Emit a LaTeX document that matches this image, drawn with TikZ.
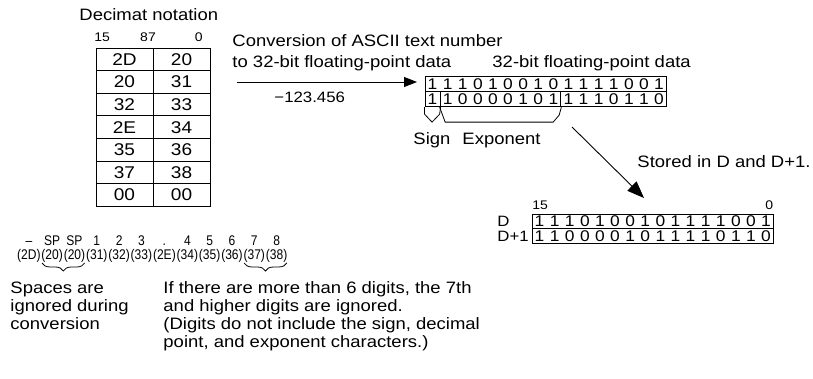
\documentclass[tikz,border=0pt]{standalone}
\usepackage{fontspec}
\setmainfont{Liberation Sans}[FakeStretch=1.12]
\newfontfamily\condfont{Liberation Sans}[FakeStretch=0.86]
\usetikzlibrary{decorations.pathreplacing,arrows.meta,calc}
\begin{document}
\begin{tikzpicture}[x=1pt,y=-1pt,
  line width=0.9pt,
  txt/.style={font=\fontsize{16.5}{18.4}\selectfont, inner sep=0pt, align=left},
  small/.style={font=\fontsize{12.5}{14}\selectfont, inner sep=0pt},
  cond/.style={font=\condfont\fontsize{14}{15}\selectfont, inner sep=0pt},
  cell/.style={draw, minimum width=57pt, minimum height=22.6pt, inner sep=0pt,
    font=\fontsize{17}{18}\selectfont, text height=12.2pt, text depth=0pt},
  regbox/.style={draw, minimum height=15pt, inner sep=0pt},
  bit/.style={font=\fontsize{15.5}{16}\selectfont, inner sep=0pt, text height=11pt, text depth=0pt},
  bigarrow/.style={-{Triangle[length=13pt,width=10pt]}},
  bracefoot/.style={decorate, decoration={brace, mirror, amplitude=8pt}}
]
\useasboundingbox (0,0) rectangle (813,379);

% ---------- decimal table ----------
\node[txt, anchor=base west] (title) at (79,21) {Decimat notation};
\node[small, anchor=base west] (b15) at (94,42) {15};
\node[small, anchor=base] (b87) at (148,42) {87};
\node[small, anchor=base east] (b0) at (203,42) {0};
\foreach \i/\a/\b in {1/2D/20, 2/20/31, 3/32/33, 4/2E/34, 5/35/36, 6/37/38, 7/00/00} {
  \node[cell] (L\i) at (124.5, {48+22.6*(\i-0.5)}) {\a};
  \node[cell] (R\i) at (181.5, {48+22.6*(\i-0.5)}) {\b};
}

% ---------- conversion arrow ----------
\node[txt, anchor=base west] (conv) at (232,47) {Conversion of ASCII text number};
\node[txt, anchor=base west] (conv2) at (232,68) {to 32-bit floating-point data};
\coordinate (arrS) at (237,82);
\coordinate (arrE) at (417,82);
\draw[bigarrow] (arrS) -- (arrE);
\node[font=\fontsize{15}{16}\selectfont, inner sep=0pt, anchor=base west] (val) at (274,103) {−123.456};

% ---------- 32-bit register ----------
\node[txt, anchor=base west] (fplabel) at (492,68) {32-bit floating-point data};
\node[regbox, minimum width=241.6pt] (rowA) at (545.8,84.2) {};
\node[regbox, minimum width=15.1pt] (sgn) at (432.55,99.2) {};
\node[regbox, minimum width=120.8pt] (expo) at (500.5,99.2) {};
\node[regbox, minimum width=105.7pt] (mant) at (613.75,99.2) {};
\foreach \d [count=\j from 0] in {1,1,1,0,1,0,0,1,0,1,1,1,1,0,0,1} {
  \node[bit] (ta\j) at ({425+15.1*(\j+0.5)}, 84.2) {\d};
}
\foreach \d [count=\j from 0] in {1,1,0,0,0,0,1,0,1,1,1,1,0,1,1,0} {
  \node[bit] (tb\j) at ({425+15.1*(\j+0.5)}, 99.2) {\d};
}
\draw[line width=0.8pt] (sgn.south west) -- ++(0,7) -- ++(7.5,8) -- ++(7.6,-8) -- (sgn.south east);
\draw[line width=0.8pt] (expo.south west) -- ++(5.5,15) -- ++(108,0) -- ++(6,-7) -- (expo.south east);
\node[txt, anchor=base west] (signlbl) at (413,145) {Sign};
\node[txt, anchor=base west] (explbl) at (462,145) {Exponent};

% ---------- stored arrow ----------
\coordinate (dS) at (572,127);
\coordinate (dE) at (644,198);
\draw[-{Triangle[length=17pt,width=13pt]}] (dS) -- (dE);
\node[txt, anchor=base west] (stored) at (637,168) {Stored in D and D+1.};

% ---------- D / D+1 ----------
\node[small, anchor=base west] (c15) at (532,210) {15};
\node[small, anchor=base east] (c0) at (773.6,210) {0};
\node[regbox, minimum width=241.6pt, minimum height=14.5pt] (regD) at (652.8,221.25) {};
\node[regbox, minimum width=241.6pt, minimum height=14.5pt] (regD1) at (652.8,235.75) {};
\node[font=\fontsize{15}{16}\selectfont, inner sep=0pt, anchor=base west] (dl) at (497,226.5) {D};
\node[font=\fontsize{15}{16}\selectfont, inner sep=0pt, anchor=base west] (dl1) at (497,241) {D+1};
\foreach \d [count=\j from 0] in {1,1,1,0,1,0,0,1,0,1,1,1,1,0,0,1} {
  \node[bit] (da\j) at ({532+15.1*(\j+0.5)}, 221.25) {\d};
}
\foreach \d [count=\j from 0] in {1,1,0,0,0,0,1,0,1,1,1,1,0,1,1,0} {
  \node[bit] (db\j) at ({532+15.1*(\j+0.5)}, 235.75) {\d};
}

% ---------- ASCII sequence ----------
\coordinate (uprow) at (0,245);
\node[cond, anchor=base west] (g1) at (16.7,259) {(2D)};
\node[cond, anchor=base west] (g2) at (g1.base east) {(20)};
\node[cond, anchor=base west] (g3) at (g2.base east) {(20)};
\node[cond, anchor=base west] (g4) at (g3.base east) {(31)};
\node[cond, anchor=base west] (g5) at (g4.base east) {(32)};
\node[cond, anchor=base west] (g6) at (g5.base east) {(33)};
\node[cond, anchor=base west] (g7) at (g6.base east) {(2E)};
\node[cond, anchor=base west] (g8) at (g7.base east) {(34)};
\node[cond, anchor=base west] (g9) at (g8.base east) {(35)};
\node[cond, anchor=base west] (g10) at (g9.base east) {(36)};
\node[cond, anchor=base west] (g11) at (g10.base east) {(37)};
\node[cond, anchor=base west] (g12) at (g11.base east) {(38)};
\foreach \k/\s in {1/–, 2/SP, 3/SP, 4/1, 5/2, 6/3, 7/., 8/4, 9/5, 10/6, 11/7, 12/8} {
  \node[cond, anchor=base] (u\k) at (g\k.center |- uprow) {\s};
}
\draw[bracefoot, line width=0.8pt] ($(g2.base west)+(1,4)$) -- ($(g3.base east)+(-1,4)$);
\draw[bracefoot, line width=0.8pt] ($(g11.base west)+(1,4)$) -- ($(g12.base east)+(-1,4)$);

\node[txt, anchor=base west] (sp1) at (10,293) {Spaces are};
\node[txt, anchor=base west] (sp2) at (10,311.3) {ignored during};
\node[txt, anchor=base west] (sp3) at (10,329.6) {conversion};
\node[txt, anchor=base west] (dg1) at (163,293) {If there are more than 6 digits, the 7th};
\node[txt, anchor=base west] (dg2) at (163,311.3) {and higher digits are ignored.};
\node[txt, anchor=base west] (dg3) at (163,329.6) {(Digits do not include the sign, decimal};
\node[txt, anchor=base west] (dg4) at (163,347.9) {point, and exponent characters.)};
\end{tikzpicture}
\end{document}
